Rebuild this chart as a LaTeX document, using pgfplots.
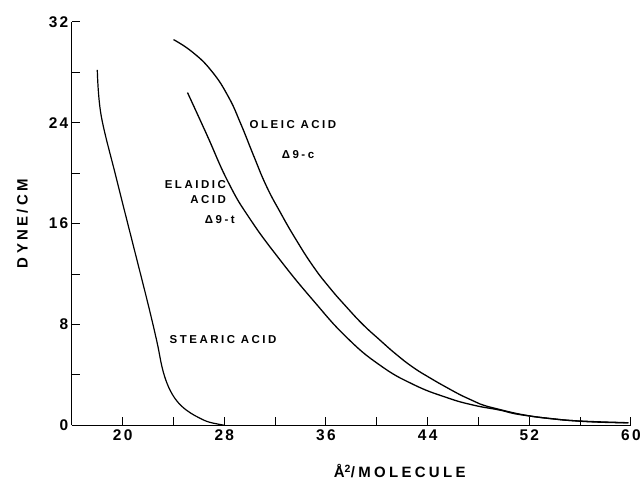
\documentclass[border=0pt]{standalone}
\usepackage{fontspec}
\setmainfont{Liberation Sans}
\newfontfamily\lab[LetterSpace=22]{Liberation Sans Bold}
\newfontfamily\tlab[LetterSpace=15]{Liberation Sans Bold}
\usepackage{pgfplots}
\pgfplotsset{compat=1.18}

\newcommand{\txt}{\lab\fontsize{11.5}{13}\selectfont}

\begin{document}
\begin{tikzpicture}
\begin{axis}[
  scale only axis,
  width=560pt, height=404pt,
  xmin=16, xmax=60, ymin=0, ymax=32,
  axis x line=bottom, axis y line=left,
  axis line style={-, line width=1pt},
  xtick={20,28,36,44,52,60},
  minor xtick={24,32,40,48,56},
  ytick={0,8,16,24,32},
  minor ytick={4,12,20,28},
  tick align=inside,
  major tick length=8pt, minor tick length=8pt,
  tick style={line width=1pt, black},
  /pgf/number format/assume math mode=true,
  ticklabel style={font=\tlab\fontsize{15.5}{15.5}\selectfont},
  xticklabel style={yshift=-1pt},
  xlabel={\lab\fontsize{15}{15}\selectfont Å\textsuperscript{2}/MOLECULE},
  xlabel style={at={(axis cs:41.8,0)}, anchor=north, yshift=-36pt},
  ylabel={\lab\fontsize{15}{15}\selectfont DYNE/CM},
  ylabel style={yshift=14pt},
]
% stearic acid
\addplot[black, line width=1.2pt, smooth, tension=0.6] coordinates {
 (18.0,28.2) (18.3,24.6) (19.5,19.6) (20.9,14.0) (22.0,9.6) (22.7,6.6)
 (23.1,4.6) (23.5,3.3) (24.0,2.3) (24.6,1.55) (25.3,1.0) (26.0,0.6)
 (26.8,0.25) (28.0,0.0)};
% oleic acid
\addplot[black, line width=1.3pt, smooth, tension=0.8] coordinates {
 (24.0,30.6) (25.5,29.6) (27.0,28.1) (28.3,26.1) (29.3,23.9) (30.3,21.4)
 (31.3,19.0) (32.4,16.9) (33.6,14.8) (35.0,12.6) (36.3,10.9) (37.6,9.4)
 (38.9,8.0) (40.2,6.8) (41.5,5.65) (42.85,4.6) (44.2,3.75) (45.5,3.0)
 (46.8,2.3) (48.1,1.7) (49.6,1.27) (51.7,0.8) (53.8,0.52) (55.9,0.34)
 (59.8,0.2)};
% elaidic acid
\addplot[black, line width=1.3pt, smooth, tension=0.8] coordinates {
 (25.1,26.4) (26.6,23.1) (28.3,19.3) (30.0,16.4) (32.4,13.1) (35.0,9.9)
 (37.6,7.0) (40.2,4.8) (42.85,3.25) (45.5,2.2) (47.6,1.6) (49.6,1.22)
 (51.7,0.78) (55.9,0.33) (59.8,0.2)};

\node[font=\txt] at (axis cs:33.4,23.85) {OLEIC ACID};
\node[font=\txt] at (axis cs:33.8,21.5) {Δ9-c};
\node[font=\txt, anchor=east] at (axis cs:28.4,19.1) {ELAIDIC};
\node[font=\txt, anchor=east] at (axis cs:28.4,17.9) {ACID};
\node[font=\txt, anchor=east] at (axis cs:29.1,16.3) {Δ9-t};
\node[font=\txt] at (axis cs:27.9,6.8) {STEARIC ACID};
\end{axis}
\path (current axis.south west) ++(-72pt,-70pt) (current axis.north east) ++(12pt,22pt);
\end{tikzpicture}
\end{document}
